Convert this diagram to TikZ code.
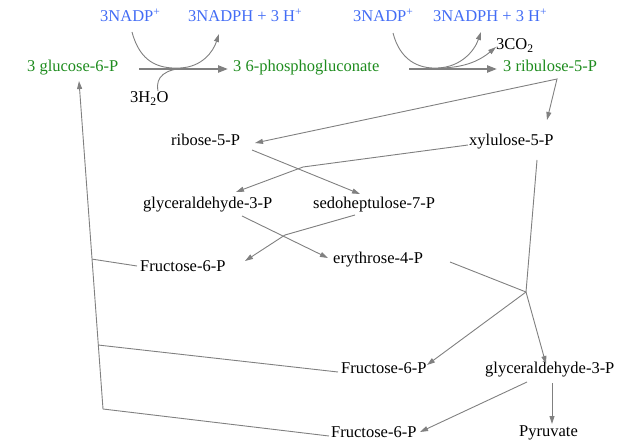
\documentclass[tikz,border=0pt]{standalone}
\usepackage{fontspec}
\setmainfont{Liberation Serif}
\usetikzlibrary{arrows.meta,calc}

\definecolor{cofblue}{RGB}{66,108,245}
\definecolor{mainpath}{RGB}{30,140,30}
\definecolor{linkgray}{RGB}{128,128,128}

\tikzset{
  lbl/.style={anchor=base west, inner sep=0pt, font=\fontsize{16.5}{19}\selectfont},
  cof/.style={lbl, text=cofblue},
  met/.style={lbl, text=mainpath},
  side/.style={lbl, text=black},
  link/.style={draw=linkgray, line width=0.9pt, -{Triangle[length=8pt,width=5pt]}},
  plain/.style={draw=linkgray, line width=0.9pt},
  react/.style={draw=linkgray, line width=2.2pt, -{Triangle[length=10pt,width=7pt]}},
}

\begin{document}
\begin{tikzpicture}[x=1pt,y=-1pt]
\useasboundingbox (0,0) rectangle (618,441);

% oxidative phase
\node[cof] (nadpA)  at (100,22) {3NADP\textsuperscript{+}};
\node[cof] (nadphA) at (188,22) {3NADPH + 3 H\textsuperscript{+}};
\node[cof] (nadpB)  at (353,22) {3NADP\textsuperscript{+}};
\node[cof] (nadphB) at (433,22) {3NADPH + 3 H\textsuperscript{+}};

\node[met] (g6p) at (27,72)  {3 glucose-6-P};
\node[met] (pgl) at (233,72) {3 6-phosphogluconate};
\node[met] (ru5p) at (503,72) {3 ribulose-5-P};

\node[side] (water) at (130,103) {3H\textsubscript{2}O};
\node[side] (co2)   at (496,50)  {3CO\textsubscript{2}};

% non-oxidative phase
\node[lbl] (r5p)  at (171,146) {ribose-5-P};
\node[lbl] (xu5p) at (469,146) {xylulose-5-P};
\node[lbl] (gapA) at (143,208) {glyceraldehyde-3-P};
\node[lbl] (s7p)  at (313,208) {sedoheptulose-7-P};
\node[lbl] (f6pA) at (140,271) {Fructose-6-P};
\node[lbl] (e4p)  at (333,263) {erythrose-4-P};
\node[lbl] (f6pB) at (341,373) {Fructose-6-P};
\node[lbl] (gapB) at (485,373) {glyceraldehyde-3-P};
\node[lbl] (f6pC) at (331,437) {Fructose-6-P};
\node[lbl] (pyr)  at (519,436) {Pyruvate};

% glucose-6-P -> 6-phosphogluconate
\draw[react] ([shift={(112,-3)}]g6p.base west) -- ([shift={(-5,-3)}]pgl.base west);
\draw[link] ([shift={(32,10)}]nadpA.base west)
  .. controls (140,62) and (158,69) .. (180,68)
  .. controls (202,67) and (213,52) .. ([shift={(31,12)}]nadphA.base west);
\draw[plain] ([shift={(28,-12)}]water.base west)
  .. controls (155,76) and (166,69) .. (186,68);

% 6-phosphogluconate -> ribulose-5-P
\draw[react] ([shift={(176,-3)}]pgl.base west) -- ([shift={(-6,-3)}]ru5p.base west);
\draw[link] ([shift={(40,11)}]nadpB.base west)
  .. controls (400,60) and (418,69) .. (438,68)
  .. controls (460,67) and (474,52) .. ([shift={(48,10)}]nadphB.base west);
\draw[link] (438,68) .. controls (462,68) and (478,62) .. ([shift={(0,-3)}]co2.base west);

% ribulose-5-P splits into ribose-5-P and xylulose-5-P
\coordinate (split) at ([shift={(54,7)}]ru5p.base west);
\draw[plain, {Triangle[length=8pt,width=5pt]}-{Triangle[length=8pt,width=5pt]}]
  ([shift={(84,-3)}]r5p.base west) -- (split) -- ([shift={(78,-26)}]xu5p.base west);

% transketolase
\draw[link] ([shift={(81,4)}]r5p.base west) -- ([shift={(47,-14)}]s7p.base west);
\draw[link] ([shift={(-1,-1)}]xu5p.base west) -- (303,167) -- ([shift={(93,-16)}]gapA.base west);

% transaldolase
\draw[link] ([shift={(99,8)}]gapA.base west) -- ([shift={(-5,-5)}]e4p.base west);
\draw[link] ([shift={(42,7)}]s7p.base west) -- (285,235) -- ([shift={(105,-10)}]f6pA.base west);

% second transketolase
\coordinate (meet) at (526,292);
\draw[plain] ([shift={(117,-1)}]e4p.base west) -- (meet);
\draw[plain] ([shift={(68,14)}]xu5p.base west) -- (meet);
\draw[link] (meet) -- ([shift={(86,-8)}]f6pB.base west);
\draw[link] (meet) -- ([shift={(61,-9)}]gapB.base west);

% fate of glyceraldehyde-3-P
\draw[link] ([shift={(42,9)}]gapB.base west) -- ([shift={(89,-5)}]f6pC.base west);
\draw[link] ([shift={(67,10)}]gapB.base west) -- ([shift={(33,-12)}]pyr.base west);

% return of fructose-6-P to glucose-6-P
\coordinate (rbot) at ([shift={(-228,-28)}]f6pC.base west);
\coordinate (rtop) at ([shift={(52,9)}]g6p.base west);
\coordinate (rmid) at ($(rbot)!0.195!(rtop)$);
\coordinate (rup)  at ($(rbot)!0.457!(rtop)$);
\draw[link] (rbot) -- (rtop);
\draw[plain] ([shift={(-2,-1)}]f6pC.base west) -- (rbot);
\draw[plain] ([shift={(-3,-1)}]f6pB.base west) -- (rmid);
\draw[plain] ([shift={(-3,-5)}]f6pA.base west) -- (rup);
\end{tikzpicture}
\end{document}
